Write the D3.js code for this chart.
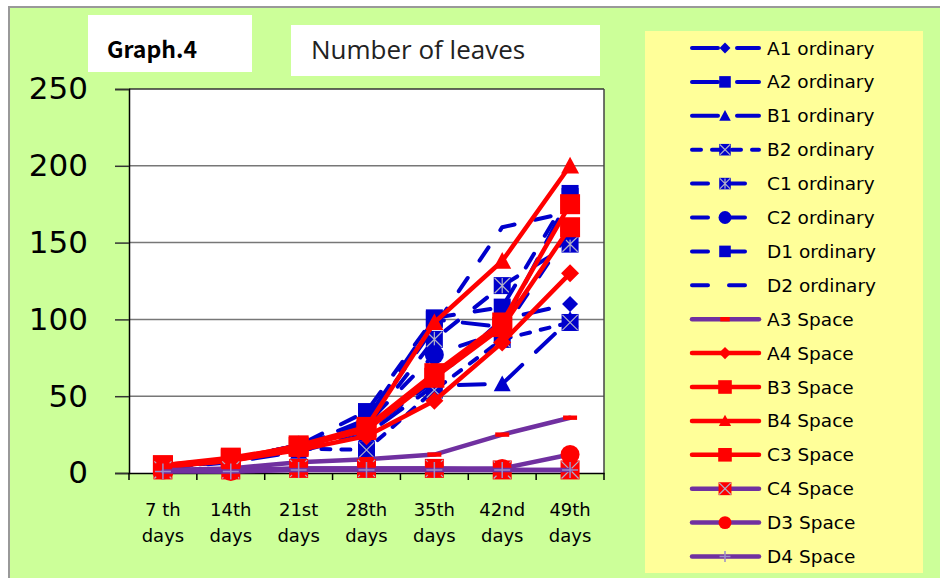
<!DOCTYPE html>
<html>
<head>
<meta charset="utf-8">
<script src="https://cdn.jsdelivr.net/npm/d3@7"></script>
<style>
html,body{margin:0;padding:0;background:#fff;}
svg{display:block;}
</style>
</head>
<body>
<svg id="chart" width="940" height="578"></svg>
<script>
// ---------- DATA ----------
const categories = ["7 th days", "14th days", "21st days", "28th days", "35th days", "42nd days", "49th days"];
const yTicks = [0, 50, 100, 150, 200, 250];

const a1Ordinary = [3, 8, 15, 28, 60, 100, 110];
const a2Ordinary = [3, 9, 17, 35, 100, 95, 180];
const b1Ordinary = [3, 7, 14, 25, 57, 58, 100];
const b2Ordinary = [3, 8, 16, 15, 54, 87, 98];
const c1Ordinary = [3, 9, 18, 30, 87, 122, 149];
const c2Ordinary = [3, 9, 18, 32, 77, 92, 158];
const d1Ordinary = [3, 9, 18, 40, 101, 108, 182];
const d2Ordinary = [3, 8, 17, 33, 95, 160, 170];
const a3Space = [2, 3, 7, 9, 12, 25, 36];
const a4Space = [4, 8, 15, 24, 47, 85, 130];
const b3Space = [5, 9, 18, 30, 65, 98, 175];
const b4Space = [4, 8, 16, 30, 98, 138, 200];
const c3Space = [5, 10, 17, 28, 62, 95, 160];
const c4Space = [2, 2, 3, 3, 3, 2, 2];
const d3Space = [2, 1, 3, 3, 3, 3, 12];
const d4Space = [1, 1, 2, 2, 2, 2, 2];

const seriesNames = ["A1 ordinary","A2 ordinary","B1 ordinary","B2 ordinary","C1 ordinary","C2 ordinary","D1 ordinary","D2 ordinary",
  "A3 Space","A4 Space","B3 Space","B4 Space","C3 Space","C4 Space","D3 Space","D4 Space"];
const seriesValues = [a1Ordinary,a2Ordinary,b1Ordinary,b2Ordinary,c1Ordinary,c2Ordinary,d1Ordinary,d2Ordinary,
  a3Space,a4Space,b3Space,b4Space,c3Space,c4Space,d3Space,d4Space];

// ---------- STYLE ----------
const BLUE = "#0000CC", RED = "#FF0000", PURPLE = "#7030A0";
const LONGDASH = "26,19", DASH = "16,21", SHORTDASH = "9,11";
const styles = [
  {line: BLUE, dash: LONGDASH, marker: "diamond", fill: BLUE, ms: 8},
  {line: BLUE, dash: LONGDASH, marker: "square", fill: BLUE, ms: 8.5},
  {line: BLUE, dash: LONGDASH, marker: "triangle", fill: BLUE, ms: 8.5},
  {line: BLUE, dash: SHORTDASH, marker: "xsquare", fill: BLUE, ms: 8.5},
  {line: BLUE, dash: DASH, marker: "starsquare", fill: BLUE, ms: 8.5},
  {line: BLUE, dash: DASH, marker: "circle", fill: BLUE, ms: 9.5},
  {line: BLUE, dash: DASH, marker: "square", fill: BLUE, ms: 8.5},
  {line: BLUE, dash: DASH, marker: "none", fill: BLUE, ms: 0},
  {line: PURPLE, dash: null, marker: "dash", fill: RED, ms: 7},
  {line: RED, dash: null, marker: "diamond", fill: RED, ms: 9},
  {line: RED, dash: null, marker: "square", fill: RED, ms: 10},
  {line: RED, dash: null, marker: "triangle", fill: RED, ms: 9},
  {line: RED, dash: null, marker: "square", fill: RED, ms: 10},
  {line: PURPLE, dash: null, marker: "xsquare", fill: RED, ms: 9.5},
  {line: PURPLE, dash: null, marker: "circle", fill: RED, ms: 9.5},
  {line: PURPLE, dash: null, marker: "plus", fill: "#9C8FC8", ms: 8}
];

const svg = d3.select("#chart");

// background
svg.append("rect").attr("x", 0).attr("y", 0).attr("width", 940).attr("height", 578).attr("fill", "#ffffff");
svg.append("rect").attr("x", 9).attr("y", 7).attr("width", 940).attr("height", 580)
  .attr("fill", "#CCFF99").attr("stroke", "#999999").attr("stroke-width", 2);

// title boxes
svg.append("rect").attr("x", 88).attr("y", 15).attr("width", 164).attr("height", 57).attr("fill", "#ffffff");
svg.append("text").attr("x", 107).attr("y", 58).text("Graph.4")
  .attr("font-family", "'Noto Sans CJK JP','Liberation Sans',Arial,sans-serif").attr("font-weight", "bold")
  .attr("font-size", 23).attr("fill", "#000");
svg.append("rect").attr("x", 291).attr("y", 25).attr("width", 309).attr("height", 51).attr("fill", "#ffffff");
svg.append("text").attr("x", 311).attr("y", 59).text("Number of leaves")
  .attr("font-family", "'Open Sans','Liberation Sans',sans-serif")
  .attr("font-size", 26).attr("fill", "#222");

// scales
const x = d3.scaleBand().domain(categories).range([129, 604]);
const y = d3.scaleLinear().domain([0, 250]).range([473, 89]);
const cx = c => x(c) + x.bandwidth() / 2;

// plot area
svg.append("rect").attr("x", 129).attr("y", y(250)).attr("width", 604 - 129).attr("height", y(0) - y(250))
  .attr("fill", "#ffffff");

// gridlines
svg.append("g").selectAll("line").data(yTicks.filter(t => t > 0)).join("line")
  .attr("x1", 129).attr("x2", 604).attr("y1", d => y(d)).attr("y2", d => y(d))
  .attr("stroke", d => d === 250 ? "#333" : "#777").attr("stroke-width", 1.5);
// right border
svg.append("line").attr("x1", 604).attr("x2", 604).attr("y1", y(250)).attr("y2", y(0))
  .attr("stroke", "#444").attr("stroke-width", 1.5);

// y axis
const yAxis = svg.append("g").attr("transform", "translate(129,0)")
  .call(d3.axisLeft(y).tickValues(yTicks).tickSize(14).tickPadding(27));
yAxis.select(".domain").attr("stroke", "#000").attr("stroke-width", 1.5);
yAxis.selectAll(".tick line").attr("stroke", "#333").attr("stroke-width", 1.5);
yAxis.selectAll(".tick text").attr("font-family", "'DejaVu Sans',Verdana,sans-serif")
  .attr("font-size", 31).attr("fill", "#000");

// x axis
const xAxis = svg.append("g").attr("transform", `translate(0,${y(0)})`)
  .call(d3.axisBottom(x).tickSize(0).tickFormat(""));
xAxis.select(".domain").attr("stroke", "#000").attr("stroke-width", 1.5);
const bounds = categories.map(c => x(c)).concat([x(categories[categories.length - 1]) + x.bandwidth()]);
svg.append("g").selectAll("line").data(bounds).join("line")
  .attr("x1", d => d).attr("x2", d => d).attr("y1", y(0)).attr("y2", y(0) + 7)
  .attr("stroke", "#000").attr("stroke-width", 1.5);
const catLabels = svg.append("g").selectAll("text").data(categories).join("text")
  .attr("x", d => cx(d)).attr("y", 516)
  .attr("text-anchor", "middle").attr("font-family", "'DejaVu Sans',Verdana,sans-serif")
  .attr("font-size", 18).attr("fill", "#000");
catLabels.each(function(d) {
  const parts = d.split(" days");
  d3.select(this).append("tspan").attr("x", cx(d)).attr("dy", 0).text(parts[0]);
  d3.select(this).append("tspan").attr("x", cx(d)).attr("dy", 26).text("days");
});

// marker drawing
function drawMarker(g, type, s, fill) {
  if (type === "none") return;
  if (type === "diamond") {
    g.append("path").attr("d", `M0,${-s}L${s},0L0,${s}L${-s},0Z`).attr("fill", fill);
  } else if (type === "square") {
    g.append("rect").attr("x", -s).attr("y", -s).attr("width", 2 * s).attr("height", 2 * s).attr("fill", fill);
  } else if (type === "triangle") {
    g.append("path").attr("d", `M0,${-s}L${s},${s * 0.85}L${-s},${s * 0.85}Z`).attr("fill", fill);
  } else if (type === "circle") {
    g.append("circle").attr("r", s).attr("fill", fill);
  } else if (type === "xsquare" || type === "starsquare") {
    g.append("rect").attr("x", -s).attr("y", -s).attr("width", 2 * s).attr("height", 2 * s).attr("fill", fill);
    const k = s * 0.9;
    g.append("path").attr("d", `M${-k},${-k}L${k},${k}M${k},${-k}L${-k},${k}` + (type === "starsquare" ? `M0,${-k}L0,${k}` : ""))
      .attr("stroke", "#B0B0C8").attr("stroke-width", 1.2).attr("fill", "none");
  } else if (type === "dash") {
    g.append("rect").attr("x", -s).attr("y", -2.2).attr("width", 2 * s).attr("height", 4.4).attr("fill", fill);
  } else if (type === "plus") {
    g.append("path").attr("d", `M${-s},0L${s},0M0,${-s}L0,${s}`).attr("stroke", fill).attr("stroke-width", 1.5);
  }
}

// series
const line = d3.line().x((d, i) => cx(categories[i])).y(d => y(d));
const plot = svg.append("g");
seriesValues.forEach((vals, si) => {
  const st = styles[si];
  const g = plot.append("g");
  g.append("path").datum(vals).attr("d", line).attr("fill", "none")
    .attr("stroke", st.line).attr("stroke-width", st.dash ? 4 : 4.5)
    .attr("stroke-linecap", "round").attr("stroke-linejoin", "round")
    .attr("stroke-dasharray", st.dash);
  vals.forEach((v, i) => {
    const mg = g.append("g").attr("transform", `translate(${cx(categories[i])},${y(v)})`);
    drawMarker(mg, st.marker, st.ms, st.fill);
  });
});

// legend
svg.append("rect").attr("x", 645).attr("y", 31).attr("width", 278).attr("height", 542).attr("fill", "#FFFF99");
const lg = svg.append("g");
seriesNames.forEach((name, i) => {
  const st = styles[i];
  const ly = 48 + i * 33.9;
  lg.append("line").attr("x1", 692).attr("x2", 759).attr("y1", ly).attr("y2", ly)
    .attr("stroke", st.line).attr("stroke-width", st.dash ? 4 : 4.5)
    .attr("stroke-linecap", "round").attr("stroke-dasharray", st.dash);
  const mg = lg.append("g").attr("transform", `translate(725,${ly})`);
  drawMarker(mg, st.marker, Math.max(st.ms * 0.68, 0), st.fill);
  lg.append("text").attr("x", 767).attr("y", ly + 6.5).text(name)
    .attr("font-family", "'DejaVu Sans',Verdana,sans-serif").attr("font-size", 18.5).attr("fill", "#000");
});
</script>
</body>
</html>
